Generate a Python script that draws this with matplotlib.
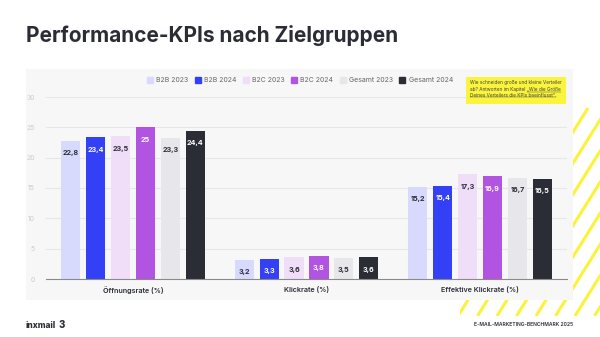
import matplotlib
matplotlib.use('Agg')
import matplotlib.pyplot as plt
import numpy as np
from matplotlib.patches import Rectangle
from matplotlib.lines import Line2D

plt.rcParams['font.family'] = ['Inter', 'DejaVu Sans']

categories = ['Öffnungsrate (%)', 'Klickrate (%)', 'Effektive Klickrate (%)']
series = ['B2B 2023', 'B2B 2024', 'B2C 2023', 'B2C 2024', 'Gesamt 2023', 'Gesamt 2024']
values = [
    [22.8, 3.2, 15.2],
    [23.4, 3.3, 15.4],
    [23.5, 3.6, 17.3],
    [25.0, 3.8, 16.9],
    [23.3, 3.5, 16.7],
    [24.4, 3.6, 16.5],
]
colors = ['#d7dafd', '#3340f6', '#f0ddf8', '#b254e2', '#e7e7eb', '#2a2d36']
text_colors = ['#2a2d36', 'white', '#2a2d36', 'white', '#2a2d36', 'white']
yticks = [0, 5, 10, 15, 20, 25, 30]

W, H = 600, 337
fig = plt.figure(figsize=(6, 3.37), dpi=100)
fig.patch.set_facecolor('white')

def fx(px):
    return px / W

def fy(py):
    return 1 - py / H

# yellow stripes behind the panel
sax = fig.add_axes([fx(460), fy(316), fx(140), (316 - 105) / H])
sax.set_xlim(460, 600)
sax.set_ylim(316, 105)
sax.axis('off')
for x0 in np.arange(380, 720, 19.5):
    sax.plot([x0, x0 + 130], [316, 316 - 208], color='#fbf23a', lw=2.2,
             solid_capstyle='butt')

# panel background
fig.add_artist(Rectangle((fx(26), fy(300)), fx(547), (300 - 69) / H,
                         transform=fig.transFigure, facecolor='#f7f7f7',
                         edgecolor='none', zorder=1))

ax = fig.add_axes([fx(46), fy(279), fx(521), (279 - 97) / H])
ax.set_zorder(3)
ax.patch.set_alpha(0)

x = np.arange(len(categories))
step = 0.1437
width = 0.11
for i, s in enumerate(series):
    pos = x + (i - 2.5) * step
    bars = ax.bar(pos, values[i], width=width, color=colors[i], label=s, zorder=3)
    for b, v in zip(bars, values[i]):
        lbl = ('%g' % v).replace('.', ',')
        ax.annotate(lbl, (b.get_x() + b.get_width() / 2, v), xytext=(0, -9),
                    textcoords='offset points', ha='center', va='center',
                    fontsize=5.2, fontweight='bold', color=text_colors[i], zorder=4)

ax.set_xlim(-0.5, 2.5)
ax.set_ylim(0, 30)
ax.set_yticks(yticks)
ax.set_yticklabels([str(t) for t in yticks], fontsize=5, color='#cccccc')
ax.tick_params(axis='y', length=0, pad=8)
ax.set_xticks(x)
ax.set_xticklabels(categories, fontsize=5.2, color='#2a2d36', fontweight='semibold')
ax.tick_params(axis='x', length=0, pad=5)
ax.grid(axis='y', color='#e6e6e6', lw=0.8, zorder=0)
for sp in ['top', 'right', 'left']:
    ax.spines[sp].set_visible(False)
ax.spines['bottom'].set_color('#8a8a8a')
ax.spines['bottom'].set_linewidth(0.8)
ax.spines['bottom'].set_zorder(5)

handles = [Line2D([], [], marker='s', ls='none', markersize=4.5, color=c) for c in colors]
fig.legend(handles, series, loc='center', bbox_to_anchor=(fx(300), fy(80)), ncol=6,
           frameon=False, fontsize=5, labelcolor='#666666', handletextpad=0.45,
           columnspacing=0.9, handlelength=0.9)

# note box
fig.add_artist(Rectangle((fx(466), fy(104)), fx(100), 27 / H, transform=fig.transFigure,
                         facecolor='#faf43c', edgecolor='none', zorder=4))
note_fs = 3.4
note_col = '#444444'
fig.canvas.draw()
r = fig.canvas.get_renderer()
fig.text(fx(470), fy(83), 'Wie schneiden große und kleine Verteiler', fontsize=note_fs,
         color=note_col, va='center', ha='left', zorder=5)
t1 = fig.text(fx(470), fy(89), 'ab? Antworten im Kapitel ', fontsize=note_fs,
              color=note_col, va='center', ha='left', zorder=5)
bb = t1.get_window_extent(r)
t2 = fig.text(bb.x1 / W, fy(89), '„Wie die Größe', fontsize=note_fs, color=note_col,
              va='center', ha='left', zorder=5)
t3 = fig.text(fx(470), fy(95), 'Deines Verteilers die KPIs beeinflusst“.', fontsize=note_fs,
              color=note_col, va='center', ha='left', zorder=5)
for t, yy in ((t2, 91.5), (t3, 97.5)):
    b = t.get_window_extent(r)
    fig.add_artist(Line2D([b.x0 / W, b.x1 / W], [fy(yy), fy(yy)], lw=0.3,
                          color=note_col, transform=fig.transFigure, zorder=5))

fig.text(fx(26), fy(35), 'Performance-KPIs nach Zielgruppen', fontsize=15,
         fontweight='bold', color='#2a2d36', va='center', ha='left')
fig.text(fx(26), fy(325), 'inxmail', fontsize=6, fontweight='heavy', color='#2a2d36',
         va='center', ha='left')
fig.text(fx(59), fy(325), '3', fontsize=7, fontweight='heavy', color='#2a2d36',
         va='center', ha='left')
fig.text(fx(573), fy(325), 'E-MAIL-MARKETING-BENCHMARK 2025', fontsize=3.6,
         fontweight='semibold', color='#2a2d36', va='center', ha='right')

fig.savefig('out.png', dpi=100)
